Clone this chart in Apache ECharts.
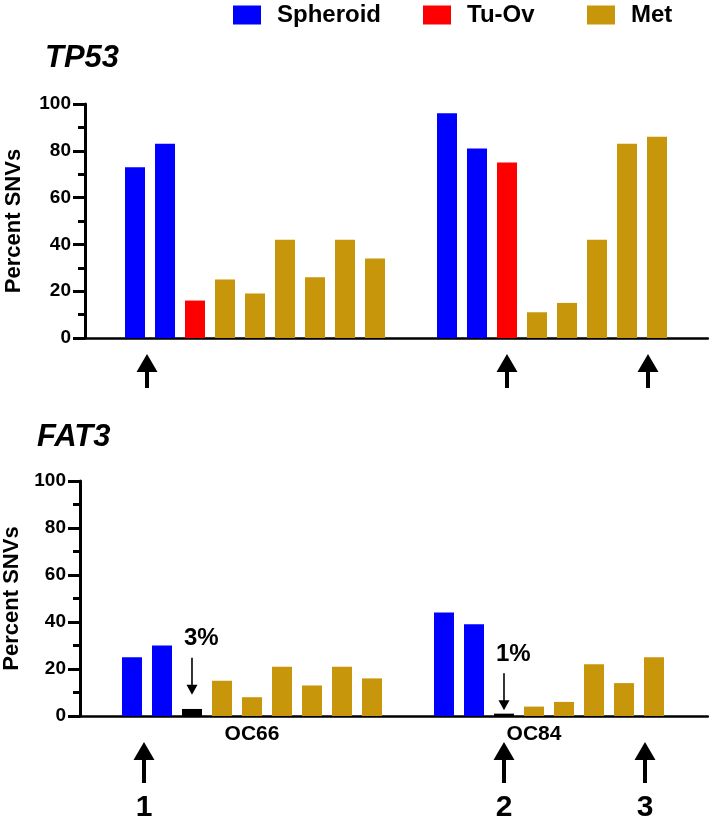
<!DOCTYPE html>
<html>
<head>
<meta charset="utf-8">
<script src="https://cdn.jsdelivr.net/npm/echarts@6/dist/echarts.min.js"></script>
<style>
html,body{margin:0;padding:0;background:#fff;}
#chart{width:709px;height:820px;}
</style>
</head>
<body>
<div id="chart"></div>
<script>
// ---------------- data ----------------
const samplePositions = [1, 2, 3, 4, 5, 6, 7, 8, 9, 11.4, 12.4, 13.4, 14.4, 15.4, 16.4, 17.4, 18.4];
const sampleTypes = ['Spheroid','Spheroid','Tu-Ov','Met','Met','Met','Met','Met','Met',
                     'Spheroid','Spheroid','Tu-Ov','Met','Met','Met','Met','Met'];
const tp53Values = [73, 83, 16, 25, 19, 42, 26, 42, 34, 96, 81, 75, 11, 15, 42, 83, 86];
const fat3Values = [25, 30, 3, 15, 8, 21, 13, 21, 16, 44, 39, 1, 4, 6, 22, 14, 25];
const patientNames = ['OC66', 'OC84'];
const patientCenters = [5, 14.4];
const arrowPositions = [1.4, 13.4, 18.1];
const arrowNumbers = ['1', '2', '3'];
const noteTexts = ['3%', '1%'];
const notePositions = [3, 13.4];
const noteArrowEnds = [9, 2.5];
const geneTitles = ['TP53', 'FAT3'];

// ---------------- style ----------------
const FONT = '"Liberation Sans", Arial, Helvetica, sans-serif';
const colorsTop = { 'Spheroid': '#0000FF', 'Tu-Ov': '#FF0000', 'Met': '#C8960A' };
const colorsBottom = { 'Spheroid': '#0000FF', 'Tu-Ov': '#000000', 'Met': '#C8960A' };
const types = ['Spheroid', 'Tu-Ov', 'Met'];

const chart = echarts.init(document.getElementById('chart'), null, { renderer: 'canvas' });

function buildSeries(values, gridIdx, colors) {
  return types.map(t => ({
    type: 'bar',
    name: t,
    xAxisIndex: gridIdx,
    yAxisIndex: gridIdx,
    barWidth: 20,
    barGap: '-100%',
    itemStyle: { color: colors[t] },
    emphasis: { disabled: true },
    data: samplePositions.map((p, i) => sampleTypes[i] === t ? [p, values[i]] : null).filter(d => d)
  }));
}

function yAxisCfg(gridIdx, nameGap) {
  return {
    type: 'value', gridIndex: gridIdx, min: 0, max: 100, interval: 20,
    name: 'Percent SNVs', nameLocation: 'middle', nameGap: nameGap,
    nameTextStyle: { fontFamily: FONT, fontWeight: 'bold', fontSize: 22, color: '#000' },
    axisLine: { show: true, onZero: false, lineStyle: { color: '#000', width: 3 } },
    axisTick: { show: true, length: 12, lineStyle: { color: '#000', width: 3 } },
    minorTick: { show: true, splitNumber: 2, length: 7, lineStyle: { color: '#000', width: 3 } },
    splitLine: { show: false },
    axisLabel: { fontFamily: FONT, fontWeight: 'bold', fontSize: 19, color: '#000', margin: 14 }
  };
}

const legendBase = {
  top: 3, padding: 0, icon: 'rect', itemWidth: 28, itemHeight: 19, selectedMode: false,
  textStyle: { fontFamily: FONT, fontWeight: 'bold', fontSize: 24, color: '#000', padding: [0, 0, 0, 11] }
};

const option = {
  animation: false,
  backgroundColor: '#fff',
  title: [
    { text: geneTitles[0], left: 45, top: 43, padding: 0,
      textStyle: { fontFamily: FONT, fontWeight: 'bold', fontStyle: 'italic', fontSize: 31, color: '#000' } },
    { text: geneTitles[1], left: 37, top: 422, padding: 0,
      textStyle: { fontFamily: FONT, fontWeight: 'bold', fontStyle: 'italic', fontSize: 31, color: '#000' } }
  ],
  legend: [
    Object.assign({}, legendBase, { left: 233, data: [{ name: 'Spheroid' }] }),
    Object.assign({}, legendBase, { left: 423, data: [{ name: 'Tu-Ov', itemStyle: { color: '#FF0000' } }] }),
    Object.assign({}, legendBase, { left: 587, data: [{ name: 'Met' }] })
  ],
  grid: [
    { left: 85, top: 104, width: 623, height: 234, containLabel: false, outerBoundsMode: 'none' },
    { left: 80, top: 481, width: 628, height: 235, containLabel: false, outerBoundsMode: 'none' }
  ],
  xAxis: [
    { type: 'value', gridIndex: 0, min: -0.667, max: 20.1,
      axisLine: { show: true, onZero: false, lineStyle: { color: '#000', width: 2.5 } },
      axisTick: { show: false }, splitLine: { show: false }, axisLabel: { show: false } },
    { type: 'value', gridIndex: 1, min: -0.733, max: 20.2,
      axisLine: { show: true, onZero: false, lineStyle: { color: '#000', width: 2.5 } },
      axisTick: { show: false }, splitLine: { show: false },
      axisLabel: { show: true, customValues: patientCenters, margin: 8,
        formatter: v => patientNames[patientCenters.indexOf(v)] || '',
        fontFamily: FONT, fontWeight: 'bold', fontSize: 21, color: '#000' } }
  ],
  yAxis: [ yAxisCfg(0, 60), yAxisCfg(1, 55) ],
  series: buildSeries(tp53Values, 0, colorsTop).concat(buildSeries(fat3Values, 1, colorsBottom))
};
chart.setOption(option);

// ---------------- annotations (positioned through the axes) ----------------
function toPx(g, x, y) { return chart.convertToPixel({ gridIndex: g }, [x, y]); }

function upArrow(cx, tipY, len) {
  const hw = 10.5, hh = 18, sw = 2;
  return {
    type: 'polygon', silent: true,
    shape: { points: [[cx, tipY], [cx + hw, tipY + hh], [cx + sw, tipY + hh], [cx + sw, tipY + len],
                      [cx - sw, tipY + len], [cx - sw, tipY + hh], [cx - hw, tipY + hh]] },
    style: { fill: '#000' }
  };
}
function downArrow(cx, y0, y1) {
  const hw = 5.5, hh = 10;
  return [
    { type: 'line', silent: true, shape: { x1: cx, y1: y0, x2: cx, y2: y1 - hh + 1 }, style: { stroke: '#000', lineWidth: 1.6 } },
    { type: 'polygon', silent: true, shape: { points: [[cx - hw, y1 - hh], [cx + hw, y1 - hh], [cx, y1]] }, style: { fill: '#000' } }
  ];
}

const graphics = [];
arrowPositions.forEach((p, i) => {
  const top = toPx(0, p, 0);
  graphics.push(upArrow(top[0], top[1] + 16, 34));
  const bot = toPx(1, p, 0);
  graphics.push(upArrow(bot[0], bot[1] + 26, 41));
  graphics.push({ type: 'text', silent: true, x: bot[0], y: 808,
    style: { text: arrowNumbers[i], fontFamily: FONT, fontWeight: 'bold', fontSize: 30, fill: '#000', align: 'center', verticalAlign: 'middle' } });
});
notePositions.forEach((p, i) => {
  const end = toPx(1, p, noteArrowEnds[i]);
  const startY = end[1] - 37;
  downArrow(end[0], startY, end[1]).forEach(g => graphics.push(g));
  graphics.push({ type: 'text', silent: true, x: end[0] - 8, y: startY - 19,
    style: { text: noteTexts[i], fontFamily: FONT, fontWeight: 'bold', fontSize: 24, fill: '#000', align: 'left', verticalAlign: 'middle' } });
});
chart.setOption({ graphic: graphics });
</script>
</body>
</html>
